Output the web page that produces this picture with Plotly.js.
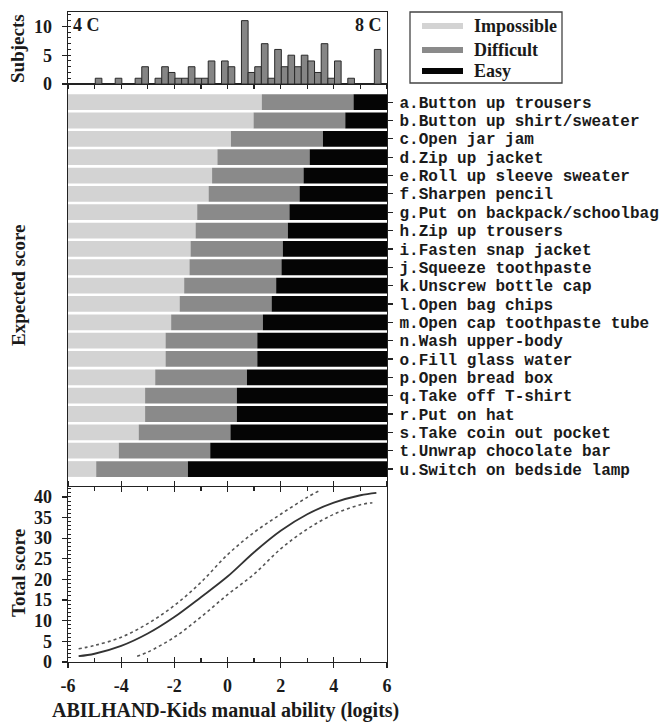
<!DOCTYPE html>
<html>
<head>
<meta charset="utf-8">
<script src="https://cdn.plot.ly/plotly-3.0.1.min.js"></script>
<style>html,body{margin:0;padding:0;background:#fff;}#chart{width:660px;height:727px;}</style>
</head>
<body>
<div id="chart"></div>
<script>
// ---- Data ----
var histCenters = [-4.85,-4.1,-3.35,-3.1,-2.6,-2.35,-2.1,-1.85,-1.6,-1.35,-1.1,-0.85,-0.6,-0.1,0.15,0.65,0.9,1.15,1.4,1.65,1.9,2.15,2.4,2.65,2.9,3.15,3.4,3.65,3.9,4.15,4.65,5.65];
var histCounts  = [1,1,1,3,1,3,2,1,1,3,1,1,4,4,3,11,2,3,7,1,6,3,5,3,5,4,2,7,1,4,1,6];

var items = ["a.Button up trousers","b.Button up shirt/sweater","c.Open jar jam","d.Zip up jacket",
  "e.Roll up sleeve sweater","f.Sharpen pencil","g.Put on backpack/schoolbag","h.Zip up trousers",
  "i.Fasten snap jacket","j.Squeeze toothpaste","k.Unscrew bottle cap","l.Open bag chips",
  "m.Open cap toothpaste tube","n.Wash upper-body","o.Fill glass water","p.Open bread box",
  "q.Take off T-shirt","r.Put on hat","s.Take coin out pocket","t.Unwrap chocolate bar","u.Switch on bedside lamp"];
// threshold impossible->difficult and difficult->easy (logits)
var thrLow  = [1.29,0.98,0.13,-0.38,-0.58,-0.71,-1.14,-1.20,-1.39,-1.43,-1.63,-1.80,-2.12,-2.33,-2.33,-2.72,-3.10,-3.10,-3.34,-4.09,-4.94];
var thrHigh = [4.74,4.43,3.59,3.09,2.86,2.71,2.33,2.27,2.08,2.03,1.83,1.66,1.33,1.12,1.12,0.73,0.35,0.35,0.11,-0.65,-1.49];
var scaleMin = -6, scaleMax = 6;

var curveX = [-5.6,-5,-4,-3,-2,-1,0,1,2,3,4,5,5.6];
var curveY = [1.4,2.0,3.9,6.9,10.9,15.7,20.7,26.6,31.8,35.8,38.6,40.4,41.0];
var upperX = [-5.6,-5,-4,-3,-2,-1,0,1,2,3,3.45];
var upperY = [3.2,4.0,6.0,9.3,13.7,19.3,26.0,31.4,35.8,39.9,41.5];
var lowerX = [-3.4,-3,-2,-1,0,1,2,3,4,5,5.45];
var lowerY = [1.4,2.4,6.0,10.9,16.3,21.3,27.4,32.2,35.8,38.1,38.6];

var xTicks = [-6,-4,-2,0,2,4,6];
var xTickText = ["-6","-4","-2","0","2","4","6"];
var totalTicks = [0,5,10,15,20,25,30,35,40];
var subjTicks = [0,5,10];
var legendNames = ["Impossible","Difficult","Easy"];
var legendColors = ["#d3d3d3","#8a8a8a","#050505"];

// ---- Layout helpers ----
var W = 660, H = 727, ML = 68, MR = 273, MT = 12, MB = 65;
var PW = W - ML - MR, PH = H - MT - MB;
function px(x){ return (x - ML) / PW; }
function py(y){ return (H - MB - y) / PH; }
var yBotTop = 487, yMidTop = 84;
var domBot = [0, py(yBotTop)];
var domMid = [py(yBotTop), py(yMidTop)];
var domTop = [py(yMidTop), 1];

var serif = "Liberation Serif, Times New Roman, serif";
var mono = "Liberation Mono, Courier New, monospace";
var tickFont = {family: serif, size: 18, color: "#1a1a1a", weight: 700};

var sub = function(a,b){ return a.map(function(v,i){ return v - b[i]; }); };
var base0 = items.map(function(){ return scaleMin; });
var toMax = thrHigh.map(function(v){ return scaleMax - v; });

var traces = [
  {type:"bar", orientation:"h", y:items, base:base0, x:thrLow.map(function(v){return v - scaleMin;}),
   marker:{color:legendColors[0]}, xaxis:"x2", yaxis:"y2", name:legendNames[0], hoverinfo:"skip"},
  {type:"bar", orientation:"h", y:items, base:thrLow, x:sub(thrHigh, thrLow),
   marker:{color:legendColors[1]}, xaxis:"x2", yaxis:"y2", name:legendNames[1], hoverinfo:"skip"},
  {type:"bar", orientation:"h", y:items, base:thrHigh, x:toMax,
   marker:{color:legendColors[2]}, xaxis:"x2", yaxis:"y2", name:legendNames[2], hoverinfo:"skip"},
  {type:"bar", x:histCenters, y:histCounts, width:0.25, xaxis:"x3", yaxis:"y3",
   marker:{color:"#858585", line:{color:"#2a2a2a", width:1}}, hoverinfo:"skip"},
  {type:"scatter", mode:"lines", x:upperX, y:upperY, xaxis:"x", yaxis:"y",
   line:{color:"#555", width:1.6, dash:"dot", shape:"spline"}},
  {type:"scatter", mode:"lines", x:lowerX, y:lowerY, xaxis:"x", yaxis:"y",
   line:{color:"#555", width:1.6, dash:"dot", shape:"spline"}},
  {type:"scatter", mode:"lines", x:curveX, y:curveY, xaxis:"x", yaxis:"y",
   line:{color:"#333", width:1.8, shape:"spline"}},
  {type:"scatter", mode:"lines", x:[], y:[], xaxis:"x4", yaxis:"y", hoverinfo:"skip"}
];

var axLine = {showline:true, linecolor:"#222", linewidth:1.3, showgrid:false, zeroline:false, tickcolor:"#222", tickwidth:1.2};
function ext(o){ var r = {}; for (var k in axLine) r[k]=axLine[k]; for (var k2 in o) r[k2]=o[k2]; return r; }

var shapes = [
  {type:"rect", xref:"paper", yref:"paper", x0:px(410), x1:px(562), y0:py(83), y1:py(12),
   line:{color:"#444", width:1.3}, fillcolor:"rgba(0,0,0,0)"}
];
var annotations = [];
var legY = [26, 50, 71];
legendNames.forEach(function(n,i){
  shapes.push({type:"line", xref:"paper", yref:"paper", x0:px(422), x1:px(463), y0:py(legY[i]), y1:py(legY[i]),
    line:{color:legendColors[i], width:6}});
  annotations.push({xref:"paper", yref:"paper", x:px(472), y:py(legY[i]), xanchor:"left", yanchor:"middle",
    text:"<b>"+n+"</b>", showarrow:false, font:{family:serif, size:18, color:"#1a1a1a"}});
});
annotations.push({xref:"paper", yref:"paper", x:px(71), y:py(25), xanchor:"left", yanchor:"middle",
  text:"<b>4 C</b>", showarrow:false, font:{family:serif, size:18, color:"#1a1a1a"}});
annotations.push({xref:"paper", yref:"paper", x:px(384), y:py(25), xanchor:"right", yanchor:"middle",
  text:"<b>8 C</b>", showarrow:false, font:{family:serif, size:18, color:"#1a1a1a"}});
annotations.push({xref:"paper", yref:"paper", x:px(18), y:py(48), xanchor:"center", yanchor:"middle", textangle:-90,
  text:"<b>Subjects</b>", showarrow:false, font:{family:serif, size:19, color:"#1a1a1a"}});
annotations.push({xref:"paper", yref:"paper", x:px(18), y:py(285), xanchor:"center", yanchor:"middle", textangle:-90,
  text:"<b>Expected score</b>", showarrow:false, font:{family:serif, size:19, color:"#1a1a1a"}});
annotations.push({xref:"paper", yref:"paper", x:px(18), y:py(573), xanchor:"center", yanchor:"middle", textangle:-90,
  text:"<b>Total score</b>", showarrow:false, font:{family:serif, size:19, color:"#1a1a1a"}});
annotations.push({xref:"paper", yref:"paper", x:px(225), y:py(710), xanchor:"center", yanchor:"middle",
  text:"<b>ABILHAND-Kids manual ability (logits)</b>", showarrow:false, font:{family:serif, size:20, color:"#1a1a1a"}});

var layout = {
  width:W, height:H, margin:{l:ML, r:MR, t:MT, b:MB},
  paper_bgcolor:"#fff", plot_bgcolor:"#fff", showlegend:false,
  barmode:"overlay", bargap:0.14,
  xaxis: ext({anchor:"y", domain:[0,1], range:[scaleMin,scaleMax], tickmode:"array", tickvals:xTicks, ticktext:xTickText,
    ticks:"inside", ticklen:5, mirror:"ticks", tickfont:tickFont, ticklabelstandoff:7,
    minor:{dtick:1, tick0:0, ticks:"inside", ticklen:4, tickcolor:"#222", tickwidth:1.2}}),
  xaxis4: {overlaying:"x", anchor:"y", range:[scaleMin,scaleMax], tickmode:"array", tickvals:xTicks, ticks:"outside", ticklen:5,
    tickcolor:"#222", tickwidth:1.2, mirror:"ticks", showline:false, showgrid:false, zeroline:false, showticklabels:false},
  yaxis: ext({anchor:"x", domain:domBot, range:[0,42.4], tickmode:"array", tickvals:totalTicks, ticks:"outside", ticklen:5,
    mirror:true, tickfont:tickFont, ticklabelstandoff:6,
    minor:{dtick:1, tick0:0, ticks:"inside", ticklen:3, tickcolor:"#222", tickwidth:1}}),
  xaxis2: ext({anchor:"y2", domain:[0,1], range:[scaleMin,scaleMax], side:"top", dtick:1, tick0:0, ticks:"inside",
    ticklen:4, showticklabels:false}),
  yaxis2: ext({anchor:"x2", domain:domMid, type:"category", categoryorder:"array", categoryarray:items,
    tickmode:"array", tickvals:items, ticktext:items,
    range:[20.98,-0.99], side:"right", ticks:"outside", ticklen:5, mirror:true,
    tickfont:{family:mono, size:16, color:"#1a1a1a", weight:700}, ticklabelstandoff:3}),
  xaxis3: ext({anchor:"y3", domain:[0,1], range:[scaleMin,scaleMax], dtick:1, tick0:0, ticks:"outside", ticklen:4,
    mirror:true, showticklabels:false}),
  yaxis3: ext({anchor:"x3", domain:domTop, range:[0,12.5], tickmode:"array", tickvals:subjTicks, ticks:"outside", ticklen:5,
    mirror:true, tickfont:tickFont, ticklabelstandoff:6,
    minor:{dtick:1, tick0:0, ticks:"inside", ticklen:3, tickcolor:"#222", tickwidth:1}}),
  shapes:shapes, annotations:annotations
};
Plotly.newPlot("chart", traces, layout, {staticPlot:true, displayModeBar:false});
</script>
</body>
</html>
